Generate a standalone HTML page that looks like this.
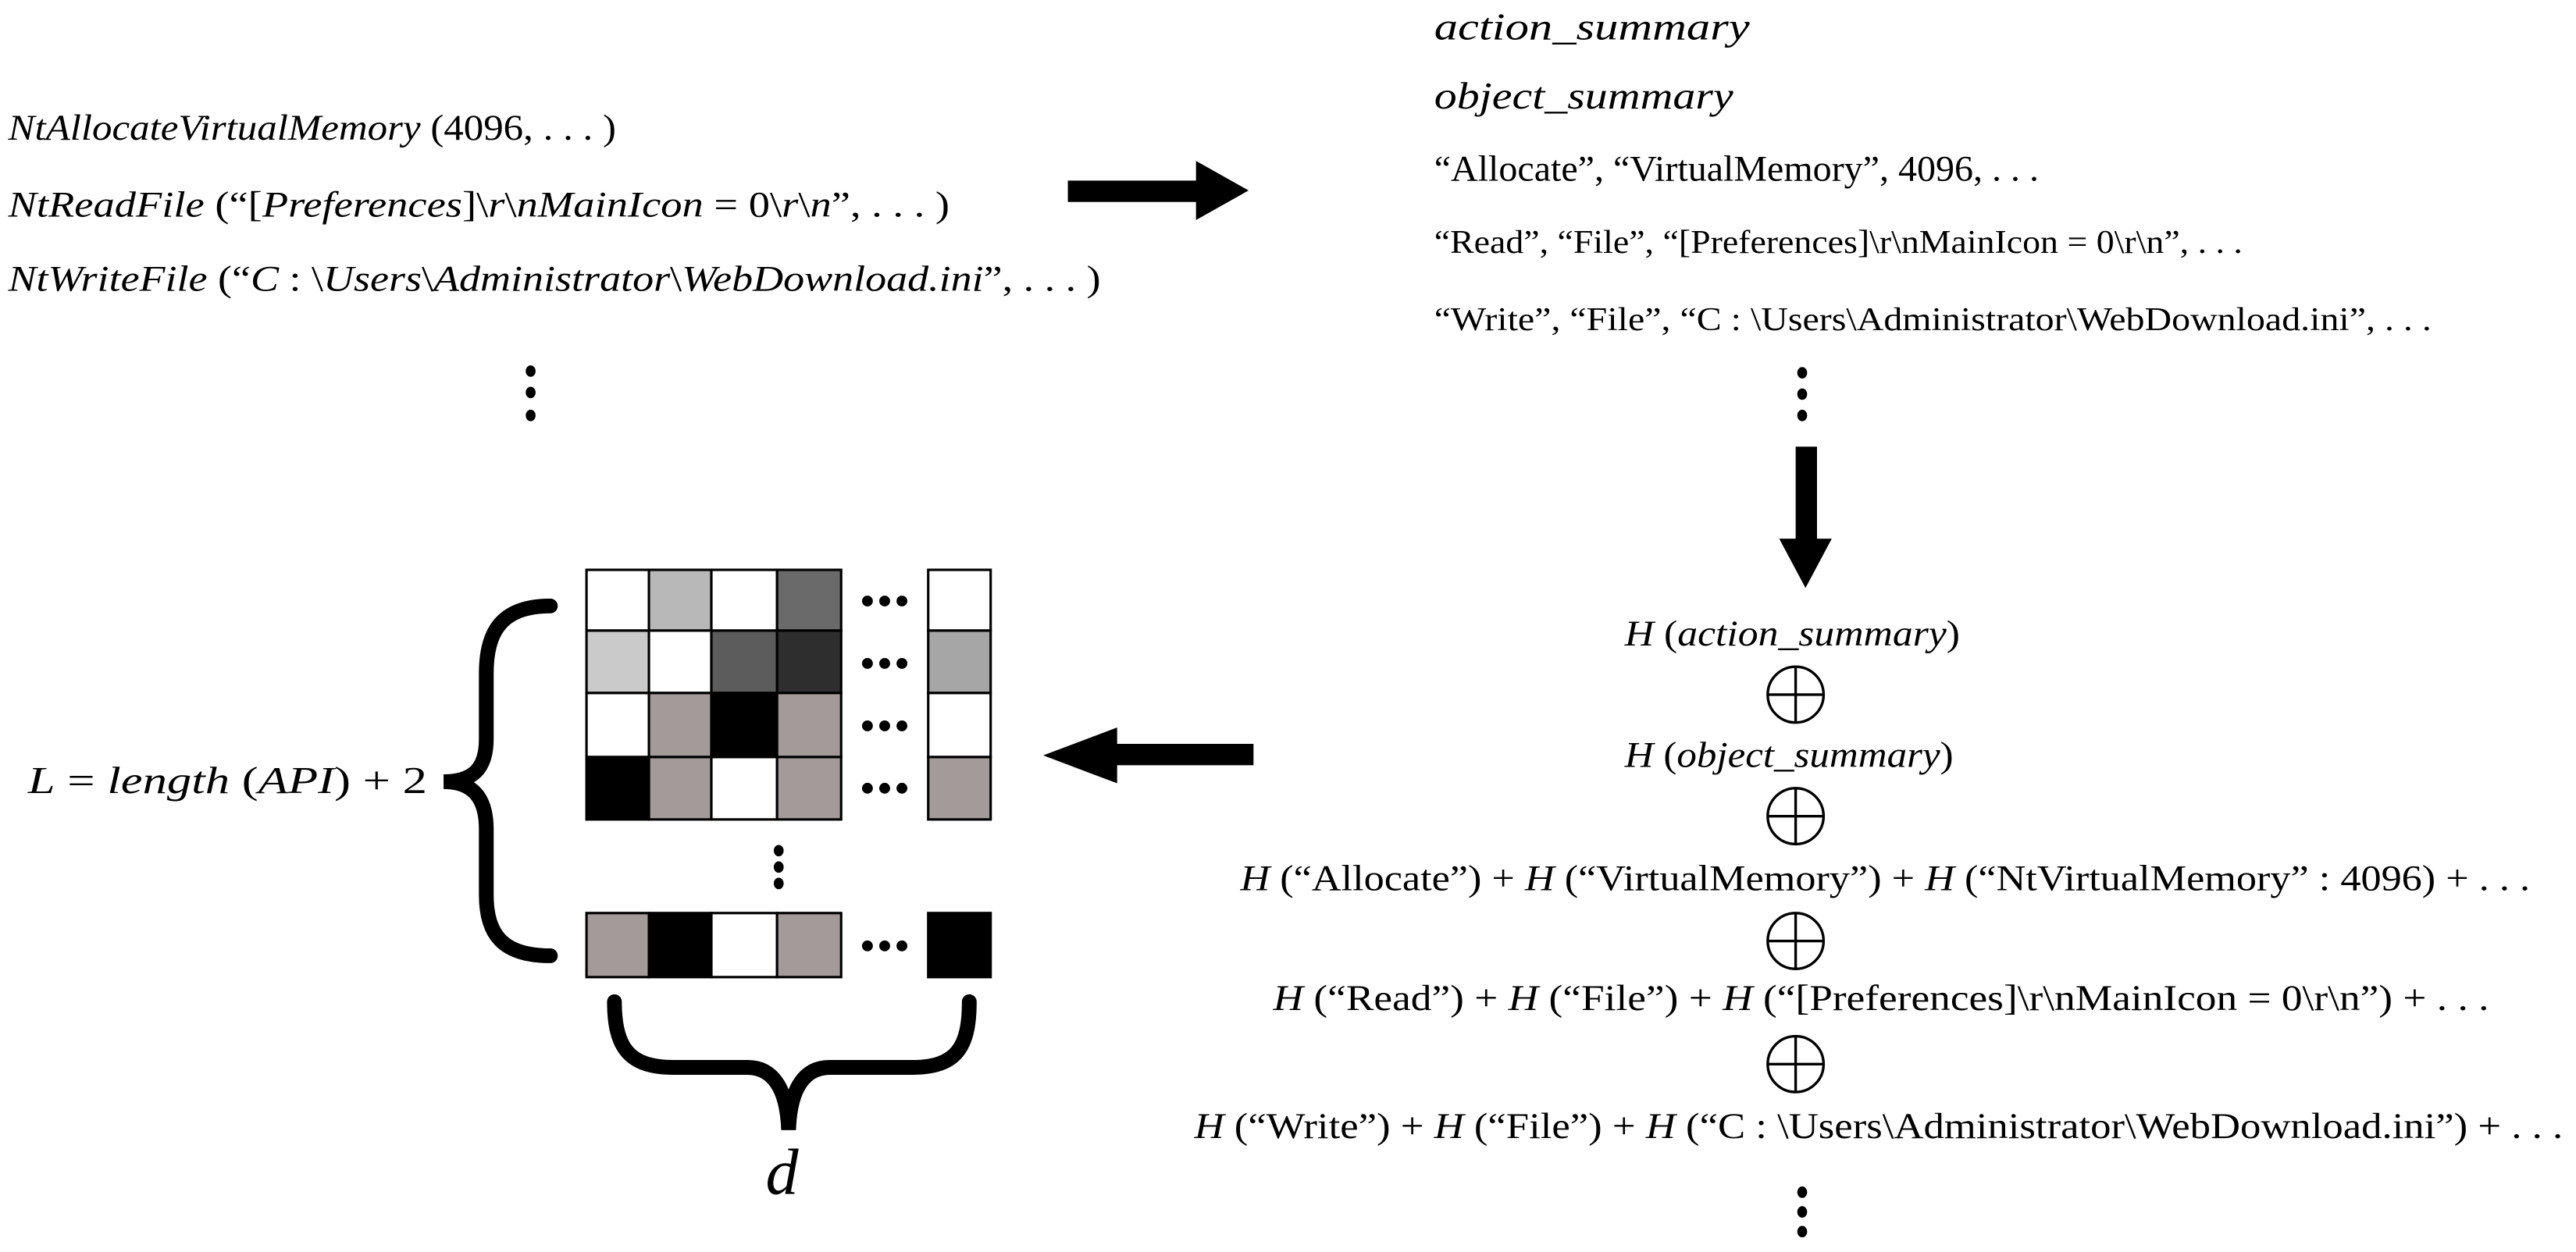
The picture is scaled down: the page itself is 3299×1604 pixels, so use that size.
<!DOCTYPE html>
<html><head><meta charset="utf-8"><style>
html,body{margin:0;padding:0;background:#fff;}
svg{display:block;}
text{font-family:"Liberation Serif",serif;fill:#000;}
.i{font-style:italic;}
</style></head><body>
<svg width="3299" height="1604" viewBox="0 0 1568 762.4" preserveAspectRatio="none" xmlns="http://www.w3.org/2000/svg">
<!-- left API calls -->
<text x="5" y="85" font-size="22" textLength="370" lengthAdjust="spacingAndGlyphs"><tspan class="i">NtAllocateVirtualMemory</tspan> (4096, . . . )</text>
<text x="5" y="132" font-size="22" textLength="573" lengthAdjust="spacingAndGlyphs"><tspan class="i">NtReadFile</tspan> (“[<tspan class="i">Preferences</tspan>]\<tspan class="i">r</tspan>\<tspan class="i">nMainIcon</tspan> = 0\<tspan class="i">r</tspan>\<tspan class="i">n</tspan>”, . . . )</text>
<text x="5" y="177" font-size="22" textLength="665" lengthAdjust="spacingAndGlyphs"><tspan class="i">NtWriteFile</tspan> (“<tspan class="i">C</tspan> : \<tspan class="i">Users</tspan>\<tspan class="i">Administrator</tspan>\<tspan class="i">WebDownload.ini</tspan>”, . . . )</text>
<g fill="#000"><ellipse cx="323" cy="226" rx="3" ry="3.5"/><ellipse cx="323" cy="239" rx="3" ry="3.5"/><ellipse cx="323" cy="253" rx="3" ry="3.5"/></g>

<!-- right arrow -->
<polygon points="650,110 728,110 728,98 760,116 728,134 728,123 650,123" fill="#000"/>

<!-- right summaries -->
<text class="i" x="873" y="24" font-size="23" textLength="192" lengthAdjust="spacingAndGlyphs">action_summary</text>
<text class="i" x="873" y="66" font-size="23" textLength="182" lengthAdjust="spacingAndGlyphs">object_summary</text>
<text x="873" y="110" font-size="22" textLength="368" lengthAdjust="spacingAndGlyphs">“Allocate”, “VirtualMemory”, 4096, . . .</text>
<text x="873" y="154" font-size="20" textLength="492" lengthAdjust="spacingAndGlyphs">“Read”, “File”, “[Preferences]\r\nMainIcon = 0\r\n”, . . .</text>
<text x="873" y="201" font-size="20" textLength="607" lengthAdjust="spacingAndGlyphs">“Write”, “File”, “C : \Users\Administrator\WebDownload.ini”, . . .</text>
<g fill="#000"><ellipse cx="1097" cy="227" rx="3" ry="3.5"/><ellipse cx="1097" cy="240" rx="3" ry="3.5"/><ellipse cx="1097" cy="253" rx="3" ry="3.5"/></g>

<!-- down arrow -->
<polygon points="1093,272 1106,272 1106,328 1115,328 1099,358 1083,328 1093,328" fill="#000"/>

<!-- hash expressions -->
<text x="989" y="393" font-size="22" textLength="204" lengthAdjust="spacingAndGlyphs"><tspan class="i">H</tspan> (<tspan class="i">action_summary</tspan>)</text>
<text x="989" y="467" font-size="22" textLength="200" lengthAdjust="spacingAndGlyphs"><tspan class="i">H</tspan> (<tspan class="i">object_summary</tspan>)</text>
<text x="755" y="542" font-size="22" textLength="785" lengthAdjust="spacingAndGlyphs"><tspan class="i">H</tspan> (“Allocate”) + <tspan class="i">H</tspan> (“VirtualMemory”) + <tspan class="i">H</tspan> (“NtVirtualMemory” : 4096) + . . .</text>
<text x="775" y="615" font-size="22" textLength="740" lengthAdjust="spacingAndGlyphs"><tspan class="i">H</tspan> (“Read”) + <tspan class="i">H</tspan> (“File”) + <tspan class="i">H</tspan> (“[Preferences]\r\nMainIcon = 0\r\n”) + . . .</text>
<text x="727" y="693" font-size="22" textLength="833" lengthAdjust="spacingAndGlyphs"><tspan class="i">H</tspan> (“Write”) + <tspan class="i">H</tspan> (“File”) + <tspan class="i">H</tspan> (“C : \Users\Administrator\WebDownload.ini”) + . . .</text>
<g fill="none" stroke="#000" stroke-width="1.6">
<circle cx="1093" cy="423" r="17"/><path d="M1076,423H1110M1093,406V440"/>
<circle cx="1093" cy="497" r="17"/><path d="M1076,497H1110M1093,480V514"/>
<circle cx="1093" cy="573" r="17"/><path d="M1076,573H1110M1093,556V590"/>
<circle cx="1093" cy="648" r="17"/><path d="M1076,648H1110M1093,631V665"/>
</g>
<g fill="#000"><ellipse cx="1097" cy="726" rx="3" ry="3.5"/><ellipse cx="1097" cy="738" rx="3" ry="3.5"/><ellipse cx="1097" cy="750" rx="3" ry="3.5"/></g>

<!-- left arrow -->
<polygon points="763,453 680,453 680,443 635,460 680,477 680,466 763,466" fill="#000"/>

<!-- grid -->
<g stroke="#000" stroke-width="1.5">
<rect x="357" y="347" width="38" height="37" fill="#fff"/><rect x="395" y="347" width="38" height="37" fill="#b8b8b8"/><rect x="433" y="347" width="40" height="37" fill="#fff"/><rect x="473" y="347" width="39" height="37" fill="#6a6a6a"/>
<rect x="357" y="384" width="38" height="38" fill="#cacaca"/><rect x="395" y="384" width="38" height="38" fill="#fff"/><rect x="433" y="384" width="40" height="38" fill="#5c5c5c"/><rect x="473" y="384" width="39" height="38" fill="#2e2e2e"/>
<rect x="357" y="422" width="38" height="39" fill="#fff"/><rect x="395" y="422" width="38" height="39" fill="#a39b99"/><rect x="433" y="422" width="40" height="39" fill="#000"/><rect x="473" y="422" width="39" height="39" fill="#a39b99"/>
<rect x="357" y="461" width="38" height="38" fill="#000"/><rect x="395" y="461" width="38" height="38" fill="#a39b99"/><rect x="433" y="461" width="40" height="38" fill="#fff"/><rect x="473" y="461" width="39" height="38" fill="#a39b99"/>
<rect x="565" y="347" width="38" height="37" fill="#fff"/><rect x="565" y="384" width="38" height="38" fill="#a6a6a6"/><rect x="565" y="422" width="38" height="39" fill="#fff"/><rect x="565" y="461" width="38" height="38" fill="#a39b99"/>
<rect x="357" y="556" width="38" height="39" fill="#a39b99"/><rect x="395" y="556" width="38" height="39" fill="#000"/><rect x="433" y="556" width="40" height="39" fill="#fff"/><rect x="473" y="556" width="39" height="39" fill="#a39b99"/>
<rect x="565" y="556" width="38" height="39" fill="#000"/>
</g>
<g fill="#000">
<circle cx="528" cy="366" r="3.3"/><circle cx="538.5" cy="366" r="3.3"/><circle cx="549" cy="366" r="3.3"/>
<circle cx="528" cy="404" r="3.3"/><circle cx="538.5" cy="404" r="3.3"/><circle cx="549" cy="404" r="3.3"/>
<circle cx="528" cy="442" r="3.3"/><circle cx="538.5" cy="442" r="3.3"/><circle cx="549" cy="442" r="3.3"/>
<circle cx="528" cy="480" r="3.3"/><circle cx="538.5" cy="480" r="3.3"/><circle cx="549" cy="480" r="3.3"/>
<circle cx="528" cy="576" r="3.3"/><circle cx="538.5" cy="576" r="3.3"/><circle cx="549" cy="576" r="3.3"/>
<ellipse cx="474" cy="518" rx="3" ry="3.5"/><ellipse cx="474" cy="528" rx="3" ry="3.5"/><ellipse cx="474" cy="538" rx="3" ry="3.5"/>
</g>

<!-- left brace -->
<path d="M335,369 C305,369 296,385 296,410 L296,450 C296,468 288,476 270,476 C288,476 296,486 296,505 L296,545 C296,568 305,582 335,582" fill="none" stroke="#000" stroke-width="9" stroke-linecap="round"/>
<text x="17" y="483" font-size="23" textLength="243" lengthAdjust="spacingAndGlyphs"><tspan class="i">L</tspan> = <tspan class="i">length</tspan> (<tspan class="i">API</tspan>) + 2</text>

<!-- bottom brace -->
<path d="M374,610 C374,638 383,650 410,650 L455,650 C470,650 479,662 480,688 C481,662 490,650 505,650 L555,650 C582,650 590,638 590,610" fill="none" stroke="#000" stroke-width="9" stroke-linecap="round"/>
<text class="i" x="466" y="727" font-size="40">d</text>
</svg>
</body></html>
